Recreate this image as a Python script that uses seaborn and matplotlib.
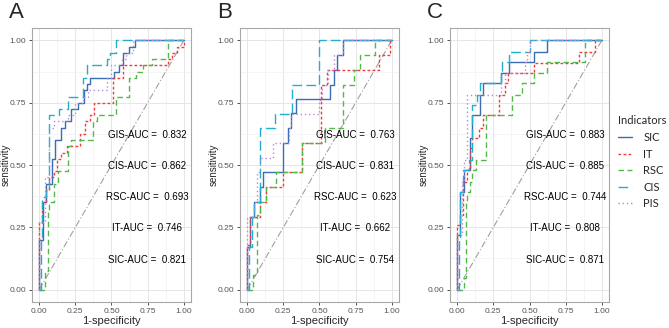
import numpy as np
import pandas as pd
import seaborn as sns
import matplotlib.pyplot as plt

indicators = ["SIC", "IT", "RSC", "CIS", "PIS"]
colors = {"SIC": "#3A6DB2", "IT": "#F03A3A", "RSC": "#52B848", "CIS": "#22AECF", "PIS": "#B98AD8"}
dashes = {"SIC": "", "IT": (2, 1.6), "RSC": (4, 2.5), "CIS": (7, 3), "PIS": (1, 2)}

# panel A  (fpr, tpr) corners of each ROC step curve
A_SIC_fpr = [0, 0, 0.025, 0.045, 0.09, 0.11, 0.15, 0.18, 0.22, 0.27, 0.31, 0.33, 0.35, 0.52, 0.55, 0.58, 0.62, 0.66, 1.0]
A_SIC_tpr = [0, 0.2, 0.35, 0.425, 0.525, 0.6, 0.65, 0.675, 0.725, 0.75, 0.8, 0.825, 0.85, 0.875, 0.9, 0.95, 0.975, 1.0, 1.0]
A_IT_fpr = [0, 0, 0.02, 0.045, 0.07, 0.1, 0.12, 0.15, 0.19, 0.28, 0.32, 0.35, 0.38, 0.51, 0.58, 0.89, 0.92, 0.955, 1.0, 1.0]
A_IT_tpr = [0, 0.27, 0.35, 0.4, 0.45, 0.475, 0.525, 0.55, 0.575, 0.625, 0.675, 0.7, 0.75, 0.85, 0.9, 0.925, 0.95, 0.975, 1.0, 1.0]
A_RSC_fpr = [0, 0.04, 0.06, 0.07, 0.1, 0.13, 0.2, 0.22, 0.37, 0.4, 0.53, 0.62, 0.67, 0.72, 0.78, 0.89, 1.0]
A_RSC_tpr = [0, 0.075, 0.32, 0.35, 0.425, 0.475, 0.575, 0.6, 0.675, 0.7, 0.775, 0.85, 0.875, 0.9, 0.925, 1.0, 1.0]
A_CIS_fpr = [0, 0.01, 0.02, 0.045, 0.065, 0.14, 0.2, 0.3, 0.33, 0.47, 0.49, 0.53, 1.0]
A_CIS_tpr = [0, 0.2, 0.37, 0.4, 0.7, 0.725, 0.775, 0.85, 0.9, 0.925, 0.95, 1.0, 1.0]
A_PIS_fpr = [0, 0, 0.04, 0.065, 0.1, 0.2, 0.25, 0.3, 0.34, 0.47, 0.5, 0.57, 0.6, 0.65, 1.0]
A_PIS_tpr = [0, 0.27, 0.45, 0.65, 0.675, 0.7, 0.75, 0.775, 0.8, 0.85, 0.9, 0.925, 0.95, 1.0, 1.0]

# panel B
B_SIC_fpr = [0, 0, 0.02, 0.045, 0.085, 0.11, 0.245, 0.28, 0.3, 0.335, 0.57, 0.6, 0.62, 0.665, 1.0]
B_SIC_tpr = [0, 0.17, 0.29, 0.35, 0.41, 0.47, 0.59, 0.65, 0.71, 0.765, 0.82, 0.88, 0.94, 1.0, 1.0]
B_IT_fpr = [0, 0, 0.02, 0.085, 0.13, 0.245, 0.38, 0.51, 0.55, 0.91, 0.99, 1.0]
B_IT_tpr = [0, 0.18, 0.29, 0.35, 0.41, 0.47, 0.59, 0.82, 0.88, 0.94, 1.0, 1.0]
B_RSC_fpr = [0, 0.04, 0.07, 0.09, 0.13, 0.2, 0.38, 0.54, 0.66, 0.74, 0.78, 0.885, 1.0]
B_RSC_tpr = [0, 0.06, 0.3, 0.35, 0.41, 0.47, 0.59, 0.65, 0.82, 0.88, 0.94, 1.0, 1.0]
B_CIS_fpr = [0, 0.01, 0.03, 0.045, 0.085, 0.09, 0.195, 0.31, 0.5, 1.0]
B_CIS_tpr = [0, 0.17, 0.29, 0.35, 0.47, 0.65, 0.705, 0.82, 1.0, 1.0]
B_PIS_fpr = [0, 0, 0.045, 0.07, 0.09, 0.18, 0.29, 0.3, 0.5, 0.52, 0.56, 0.6, 0.66, 1.0]
B_PIS_tpr = [0, 0.29, 0.35, 0.47, 0.53, 0.59, 0.65, 0.705, 0.76, 0.82, 0.88, 0.94, 1.0, 1.0]

# panel C
C_SIC_fpr = [0, 0, 0.02, 0.045, 0.085, 0.1, 0.155, 0.175, 0.3, 0.355, 0.53, 0.62, 1.0]
C_SIC_tpr = [0, 0.22, 0.39, 0.48, 0.61, 0.7, 0.78, 0.83, 0.87, 0.915, 0.955, 1.0, 1.0]
C_IT_fpr = [0, 0, 0.02, 0.04, 0.065, 0.085, 0.1, 0.15, 0.18, 0.29, 0.33, 0.35, 0.53, 0.84, 0.95, 1.0]
C_IT_tpr = [0, 0.26, 0.3, 0.43, 0.48, 0.57, 0.61, 0.65, 0.7, 0.78, 0.83, 0.87, 0.91, 0.955, 1.0, 1.0]
C_RSC_fpr = [0, 0.045, 0.06, 0.07, 0.09, 0.1, 0.13, 0.2, 0.38, 0.45, 0.53, 0.62, 0.885, 1.0]
C_RSC_tpr = [0, 0.045, 0.35, 0.39, 0.43, 0.48, 0.52, 0.7, 0.78, 0.83, 0.87, 0.915, 1.0, 1.0]
C_CIS_fpr = [0, 0.01, 0.02, 0.04, 0.08, 0.1, 0.14, 0.16, 0.3, 0.31, 0.36, 0.5, 1.0]
C_CIS_tpr = [0, 0.2, 0.39, 0.48, 0.52, 0.74, 0.78, 0.83, 0.87, 0.915, 0.955, 1.0, 1.0]
C_PIS_fpr = [0, 0, 0.03, 0.05, 0.065, 0.07, 0.3, 0.33, 0.47, 0.48, 0.5, 1.0]
C_PIS_tpr = [0, 0.22, 0.43, 0.52, 0.6, 0.78, 0.83, 0.87, 0.915, 0.955, 1.0, 1.0]

panels = {
    "A": {"SIC": (A_SIC_fpr, A_SIC_tpr), "IT": (A_IT_fpr, A_IT_tpr), "RSC": (A_RSC_fpr, A_RSC_tpr),
          "CIS": (A_CIS_fpr, A_CIS_tpr), "PIS": (A_PIS_fpr, A_PIS_tpr)},
    "B": {"SIC": (B_SIC_fpr, B_SIC_tpr), "IT": (B_IT_fpr, B_IT_tpr), "RSC": (B_RSC_fpr, B_RSC_tpr),
          "CIS": (B_CIS_fpr, B_CIS_tpr), "PIS": (B_PIS_fpr, B_PIS_tpr)},
    "C": {"SIC": (C_SIC_fpr, C_SIC_tpr), "IT": (C_IT_fpr, C_IT_tpr), "RSC": (C_RSC_fpr, C_RSC_tpr),
          "CIS": (C_CIS_fpr, C_CIS_tpr), "PIS": (C_PIS_fpr, C_PIS_tpr)},
}

auc_labels = ["GIS-AUC", "CIS-AUC", "RSC-AUC", "IT-AUC", "SIC-AUC"]
auc_y = [0.62, 0.495, 0.37, 0.247, 0.12]
auc_values = {
    "A": [0.832, 0.862, 0.693, 0.746, 0.821],
    "B": [0.763, 0.831, 0.623, 0.662, 0.754],
    "C": [0.883, 0.885, 0.744, 0.808, 0.871],
}

sns.set_style("whitegrid")
plt.rcParams["font.family"] = ["Liberation Sans", "DejaVu Sans"]

fig = plt.figure(figsize=(6.69, 3.28), dpi=100)
lefts = {"A": 32, "B": 240, "C": 450}
tick_pos = [0, 0.25, 0.5, 0.75, 1.0]
tick_lab = ["0.00", "0.25", "0.50", "0.75", "1.00"]

for name, curves in panels.items():
    ax = fig.add_axes([lefts[name] / 669, 26 / 328, 159 / 669, 274 / 328])
    rows = []
    for ind in indicators:
        fpr, tpr = curves[ind]
        for i, (x, y) in enumerate(zip(fpr, tpr)):
            rows.append({"fpr": x, "tpr": y, "Indicators": ind, "order": i})
    df = pd.DataFrame(rows)
    ax.plot([0, 1], [0, 1], color="#A0A0A0", lw=0.8, ls=(0, (6, 2, 1, 2)), zorder=1)
    sns.lineplot(data=df, x="fpr", y="tpr", hue="Indicators", style="Indicators",
                 hue_order=indicators, style_order=indicators, palette=colors, dashes=dashes,
                 sort=False, estimator=None, drawstyle="steps-post", linewidth=1.0,
                 ax=ax, legend=(name == "C"))
    for lab, yy, v in zip(auc_labels, auc_y, auc_values[name]):
        ax.text(0.745, yy, f"{lab} =  {v:.3f}", ha="center", va="center", fontsize=7, color="black")
    ax.set_xlim(-0.05, 1.05)
    ax.set_ylim(-0.05, 1.05)
    ax.set_xticks(tick_pos)
    ax.set_xticklabels(tick_lab)
    ax.set_yticks(tick_pos)
    ax.set_yticklabels(tick_lab)
    ax.set_xticks([0.125, 0.375, 0.625, 0.875], minor=True)
    ax.set_yticks([0.125, 0.375, 0.625, 0.875], minor=True)
    ax.grid(which="major", color="#E6E6E6", lw=0.7)
    ax.grid(which="minor", color="#F2F2F2", lw=0.5)
    ax.tick_params(which="major", length=2.5, width=0.6, color="#333333", labelsize=6,
                   labelcolor="#555555", pad=1.5, left=True, bottom=True)
    ax.tick_params(which="minor", length=0)
    for s in ax.spines.values():
        s.set_color("#A8A8A8")
        s.set_linewidth(0.8)
    ax.set_xlabel("1-specificity", fontsize=8, labelpad=1)
    ax.set_ylabel("sensitivity", fontsize=7)
    ax.yaxis.set_label_coords(-21.5 / 159, 0.5)
    fig.text((lefts[name] - 23) / 669, 1 - 12 / 328, name, fontsize=16, ha="left", va="center")
    if name == "C":
        sns.move_legend(ax, "center left", bbox_to_anchor=(616 / 669, 0.505), bbox_transform=fig.transFigure,
                        frameon=False, fontsize=8, title_fontsize=8, handlelength=1.25,
                        handletextpad=1.0, labelspacing=0.5, borderaxespad=0, borderpad=0.2,
                        prop={"family": "Lato", "size": 8})
        leg = ax.get_legend()
        leg.get_title().set_family("Lato")
        leg._legend_box.align = "left"

plt.savefig("out.png", dpi=100)
